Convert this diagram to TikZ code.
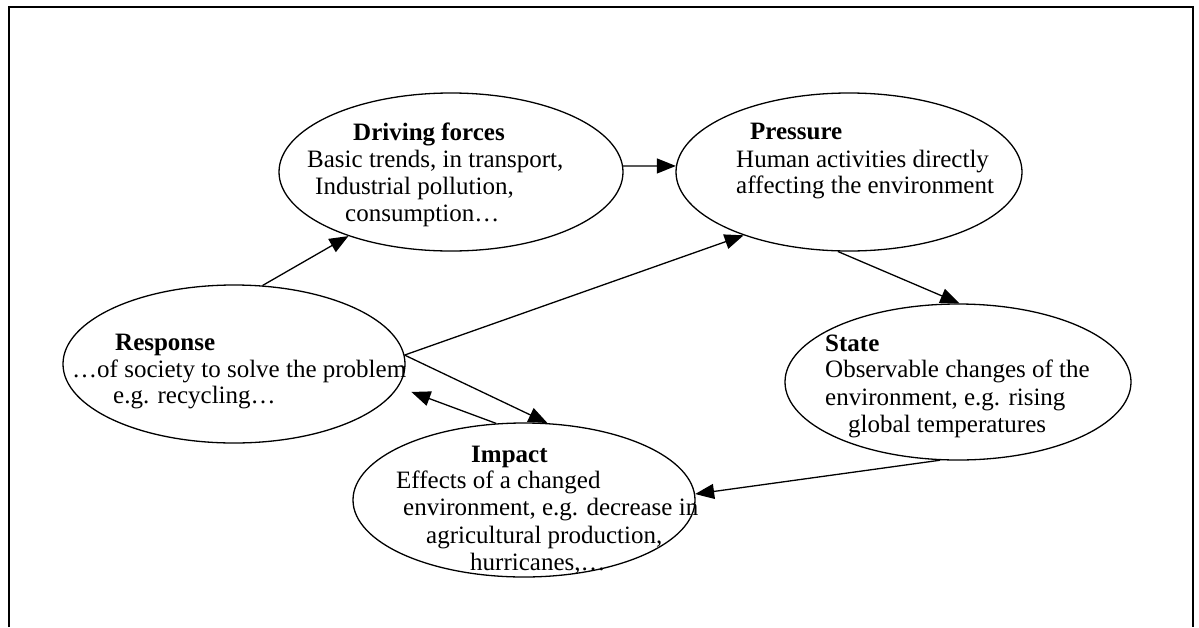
\documentclass[tikz,border=0pt]{standalone}
\usepackage{fontspec}
\setmainfont{Liberation Serif}
\usetikzlibrary{shapes.geometric,arrows.meta}
\begin{document}
\begin{tikzpicture}[x=1pt,y=-1pt,
  ell/.style={draw,ellipse,line width=1.3pt,inner sep=0pt,minimum width=344pt,minimum height=158pt},
  txt/.style={anchor=base west,inner sep=0pt,font=\fontsize{25}{28}\selectfont},
  ttl/.style={anchor=base west,inner sep=0pt,font=\fontsize{25}{28}\selectfont\bfseries},
  arr/.style={line width=1.3pt,-{Triangle[length=19pt,width=15pt]}},
  frm/.style={line width=2pt}]
\useasboundingbox (0,0) rectangle (1199,627);
\draw[frm] (9,627) -- (9,7) -- (1193,7) -- (1193,627);

% ellipses
\node[ell] (drv) at (451,172) {};
\node[ell,minimum width=346pt] (prs) at (849,172) {};
\node[ell,minimum width=342pt] (rsp) at (234,364) {};
\node[ell,minimum width=346pt,minimum height=156pt] (sta) at (958,382) {};
\node[ell,minimum width=342pt,minimum height=154pt] (imp) at (524,500) {};

% texts
\node[ttl] (d0) at (353,140) {Driving forces};
\node[txt] (d1) at (307,167) {Basic trends, in transport,};
\node[txt] (d2) at (315,194) {Industrial pollution,};
\node[txt] (d3) at (345,221) {consumption…};

\node[ttl] (p0) at (750,139) {Pressure};
\node[txt] (p1) at (736,167) {Human activities directly};
\node[txt] (p2) at (736,193) {affecting the environment};

\node[ttl] (r0) at (115,350) {Response};
\node[txt] (r1) at (72,377) {…of society to solve the problem};
\node[txt] (r2) at (113,403) {e.g. recycling…};

\node[ttl] (s0) at (825,351) {State};
\node[txt] (s1) at (825,377) {Observable changes of the};
\node[txt] (s2) at (825,405) {environment, e.g. rising};
\node[txt] (s3) at (848,432) {global temperatures};

\node[ttl] (i0) at (471,462) {Impact};
\node[txt] (i1) at (396,488) {Effects of a changed};
\node[txt] (i2) at (403,515) {environment, e.g. decrease in};
\node[txt] (i3) at (426,543) {agricultural production,};
\node[txt] (i4) at (470,570) {hurricanes,…};

% connectors
\draw[arr] (drv.2) -- (prs.178);
\draw[arr] (rsp.70) -- (drv.-148);
\draw[arr] (rsp.3) -- (prs.211);
\draw[arr] (rsp.3) -- (imp.73);
\draw[arr,shorten >=14pt] (imp.110) -- (rsp.-8);
\draw[arr] (prs.-98) -- (sta.89);
\draw[arr] (sta.-103) -- (imp.2);
\end{tikzpicture}
\end{document}
